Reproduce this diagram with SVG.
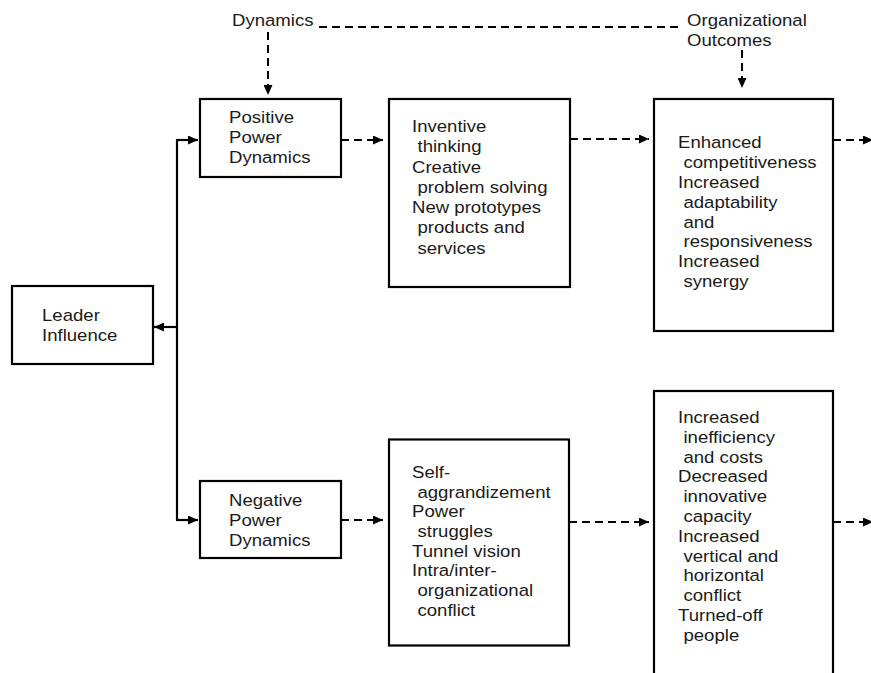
<svg xmlns="http://www.w3.org/2000/svg" width="871" height="673" viewBox="0 0 871 673">
<style>
.box{fill:#fff;stroke:#000;stroke-width:2.2}
.t{font-family:"Liberation Sans",Arial,sans-serif;font-size:16.3px;fill:#1a1a1a}
.dash{fill:none;stroke:#000;stroke-width:2;stroke-dasharray:8 5}
.solid{fill:none;stroke:#000;stroke-width:2.2}
</style>
<defs>
<marker id="ah" markerUnits="userSpaceOnUse" markerWidth="11" markerHeight="9" refX="10" refY="4.5" orient="auto">
<path d="M0,0 L10,4.5 L0,9 z" fill="#000"/>
</marker>
</defs>
<rect width="871" height="673" fill="#fff"/>
<g id="connectors">
<path class="dash" d="M319,27 H682"/>
<path class="dash" d="M268,32 V95" marker-end="url(#ah)"/>
<path class="dash" d="M742,50 V88" marker-end="url(#ah)"/>
<path class="solid" d="M177,140 V520"/>
<path class="solid" d="M176,140 H198" marker-end="url(#ah)"/>
<path class="solid" d="M176,520 H198" marker-end="url(#ah)"/>
<path class="solid" d="M177,327 H154" marker-end="url(#ah)"/>
<path class="dash" d="M341,140 H383" marker-end="url(#ah)"/>
<path class="dash" d="M570,139 H649" marker-end="url(#ah)"/>
<path class="dash" d="M833,140 H873" marker-end="url(#ah)"/>
<path class="dash" d="M341,520 H383" marker-end="url(#ah)"/>
<path class="dash" d="M569,522 H649" marker-end="url(#ah)"/>
<path class="dash" d="M833,522 H873" marker-end="url(#ah)"/>
</g>
<g id="label-dynamics">
<text class="t" transform="translate(232,26) scale(1.14,1)">Dynamics</text>
</g>
<g id="label-outcomes">
<text class="t" transform="translate(687,26) scale(1.14,1)"><tspan x="0" y="0">Organizational</tspan><tspan x="0" dy="20">Outcomes</tspan></text>
</g>
<g id="leader">
<rect class="box" x="12" y="286" width="141" height="78"/>
<text class="t" transform="translate(42,321) scale(1.14,1)"><tspan x="0" y="0">Leader</tspan><tspan x="0" dy="20">Influence</tspan></text>
</g>
<g id="positive">
<rect class="box" x="200" y="99" width="141" height="78"/>
<text class="t" transform="translate(229,123) scale(1.14,1)"><tspan x="0" y="0">Positive</tspan><tspan x="0" dy="20">Power</tspan><tspan x="0" dy="20">Dynamics</tspan></text>
</g>
<g id="negative">
<rect class="box" x="200" y="481" width="141" height="77"/>
<text class="t" transform="translate(229,506) scale(1.14,1)"><tspan x="0" y="0">Negative</tspan><tspan x="0" dy="20">Power</tspan><tspan x="0" dy="20">Dynamics</tspan></text>
</g>
<g id="positive-effects">
<rect class="box" x="389" y="99" width="181" height="188"/>
<text class="t" transform="translate(412,132) scale(1.14,1)"><tspan x="0" y="0">Inventive</tspan><tspan x="4.8" dy="20.3">thinking</tspan><tspan x="0" dy="20.3">Creative</tspan><tspan x="4.8" dy="20.3">problem solving</tspan><tspan x="0" dy="20.3">New prototypes</tspan><tspan x="4.8" dy="20.3">products and</tspan><tspan x="4.8" dy="20.3">services</tspan></text>
</g>
<g id="negative-effects">
<rect class="box" x="389" y="439.5" width="180" height="206"/>
<text class="t" transform="translate(412,478) scale(1.14,1)"><tspan x="0" y="0">Self-</tspan><tspan x="4.8" dy="19.7">aggrandizement</tspan><tspan x="0" dy="19.7">Power</tspan><tspan x="4.8" dy="19.7">struggles</tspan><tspan x="0" dy="19.7">Tunnel vision</tspan><tspan x="0" dy="19.7">Intra/inter-</tspan><tspan x="4.8" dy="19.7">organizational</tspan><tspan x="4.8" dy="19.7">conflict</tspan></text>
</g>
<g id="positive-outcomes">
<rect class="box" x="654" y="99" width="179" height="232"/>
<text class="t" transform="translate(678,148) scale(1.14,1)"><tspan x="0" y="0">Enhanced</tspan><tspan x="4.8" dy="19.9">competitiveness</tspan><tspan x="0" dy="19.9">Increased</tspan><tspan x="4.8" dy="19.9">adaptability</tspan><tspan x="4.8" dy="19.9">and</tspan><tspan x="4.8" dy="19.9">responsiveness</tspan><tspan x="0" dy="19.9">Increased</tspan><tspan x="4.8" dy="19.9">synergy</tspan></text>
</g>
<g id="negative-outcomes">
<rect class="box" x="654" y="391" width="179" height="300"/>
<text class="t" transform="translate(678,423) scale(1.14,1)"><tspan x="0" y="0">Increased</tspan><tspan x="4.8" dy="19.8">inefficiency</tspan><tspan x="4.8" dy="19.8">and costs</tspan><tspan x="0" dy="19.8">Decreased</tspan><tspan x="4.8" dy="19.8">innovative</tspan><tspan x="4.8" dy="19.8">capacity</tspan><tspan x="0" dy="19.8">Increased</tspan><tspan x="4.8" dy="19.8">vertical and</tspan><tspan x="4.8" dy="19.8">horizontal</tspan><tspan x="4.8" dy="19.8">conflict</tspan><tspan x="0" dy="19.8">Turned-off</tspan><tspan x="4.8" dy="19.8">people</tspan></text>
</g>
</svg>
